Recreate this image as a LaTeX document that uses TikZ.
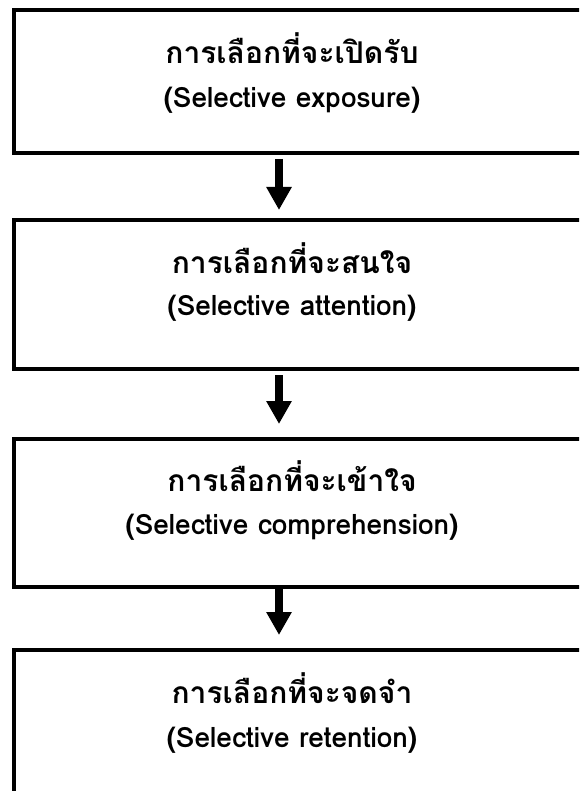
\documentclass[tikz,border=0pt]{standalone}
\usepackage{fontspec}
\setmainfont[Script=Thai]{Loma}
\usetikzlibrary{arrows.meta}
\begin{document}
\begin{tikzpicture}[x=1pt,y=-1pt,
  stage/.style={draw=black,line width=4pt,outer sep=0pt,inner sep=0pt,minimum width=586pt},
  lbl/.style={font=\bfseries\fontsize{28}{32}\selectfont,inner sep=0pt,anchor=center},
  th/.style={lbl,font=\bfseries\fontsize{30}{34}\selectfont},
  arr/.style={line width=8pt,-{Triangle[width=24pt,length=23pt]}}]
\useasboundingbox (0,0) rectangle (579,791);
\clip (0,0) rectangle (579,791);
\fill[white] (0,0) rectangle (579,791);
\coordinate (ax) at (279,0);
\node[stage,minimum height=143pt] (b1) at (307,81.5) {};
\node[stage,minimum height=149pt] (b2) at (307,294.5) {};
\node[stage,minimum height=148pt] (b3) at (307,513) {};
\node[stage,minimum height=180pt] (b4) at (307,740) {};
\node[th] (t1) at (292,48) {การเลือกที่จะเปิดรับ};
\node[lbl] (e1) at (292,100) {(Selective exposure)};
\node[th] (t2) at (292,258) {การเลือกที่จะสนใจ};
\node[lbl] (e2) at (292,308) {(Selective attention)};
\node[th] (t3) at (292,476) {การเลือกที่จะเข้าใจ};
\node[lbl] (e3) at (292,527) {(Selective comprehension)};
\node[th] (t4) at (292,688) {การเลือกที่จะจดจำ};
\node[lbl] (e4) at (292,740) {(Selective retention)};
\draw[arr] ([yshift=-6pt]b1.south -| ax) -- ([yshift=10pt]b2.north -| ax);
\draw[arr] ([yshift=-6pt]b2.south -| ax) -- ([yshift=15pt]b3.north -| ax);
\draw[arr] ([yshift=-1pt]b3.south -| ax) -- ([yshift=15pt]b4.north -| ax);
\end{tikzpicture}
\end{document}
